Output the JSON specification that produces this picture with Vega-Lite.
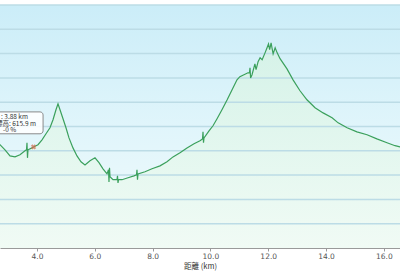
{
  "$schema": "https://vega.github.io/schema/vega-lite/v6.json",
  "autosize": {"type": "none"},
  "width": 400,
  "height": 243,
  "padding": {"top": 5, "left": 0, "right": 0, "bottom": 28},
  "background": "#ffffff",
  "config": {"view": {"stroke": null}},
  "datasets": {
    "profile": [
      {"km": 2.55, "elev": 633}, {"km": 2.72, "elev": 625}, {"km": 2.893, "elev": 604}, {"km": 3.066, "elev": 579},
      {"km": 3.239, "elev": 575}, {"km": 3.412, "elev": 584}, {"km": 3.585, "elev": 600}, {"km": 3.637, "elev": 604},
      {"km": 3.654, "elev": 633}, {"km": 3.671, "elev": 571}, {"km": 3.689, "elev": 604}, {"km": 3.827, "elev": 612},
      {"km": 3.88, "elev": 615.9}, {"km": 4.035, "elev": 625}, {"km": 4.174, "elev": 645}, {"km": 4.312, "elev": 670},
      {"km": 4.45, "elev": 695}, {"km": 4.554, "elev": 728}, {"km": 4.657, "elev": 769}, {"km": 4.727, "elev": 793},
      {"km": 4.796, "elev": 769}, {"km": 4.9, "elev": 732}, {"km": 5.003, "elev": 695}, {"km": 5.107, "elev": 653},
      {"km": 5.245, "elev": 612}, {"km": 5.384, "elev": 579}, {"km": 5.522, "elev": 555}, {"km": 5.661, "elev": 542},
      {"km": 5.834, "elev": 559}, {"km": 6.007, "elev": 571}, {"km": 6.145, "elev": 551}, {"km": 6.284, "elev": 526},
      {"km": 6.422, "elev": 505}, {"km": 6.474, "elev": 522}, {"km": 6.491, "elev": 472}, {"km": 6.509, "elev": 530},
      {"km": 6.526, "elev": 493}, {"km": 6.63, "elev": 481}, {"km": 6.768, "elev": 481}, {"km": 6.785, "elev": 497},
      {"km": 6.803, "elev": 468}, {"km": 6.82, "elev": 481}, {"km": 6.941, "elev": 481}, {"km": 7.149, "elev": 489},
      {"km": 7.356, "elev": 497}, {"km": 7.443, "elev": 501}, {"km": 7.46, "elev": 522}, {"km": 7.477, "elev": 481},
      {"km": 7.495, "elev": 505}, {"km": 7.737, "elev": 514}, {"km": 7.979, "elev": 526}, {"km": 8.256, "elev": 538},
      {"km": 8.498, "elev": 555}, {"km": 8.706, "elev": 575}, {"km": 8.948, "elev": 592}, {"km": 9.19, "elev": 612},
      {"km": 9.433, "elev": 629}, {"km": 9.64, "elev": 641}, {"km": 9.727, "elev": 649}, {"km": 9.744, "elev": 678},
      {"km": 9.761, "elev": 633}, {"km": 9.779, "elev": 653}, {"km": 9.952, "elev": 682}, {"km": 10.09, "elev": 703},
      {"km": 10.23, "elev": 732}, {"km": 10.4, "elev": 769}, {"km": 10.58, "elev": 810}, {"km": 10.75, "elev": 851},
      {"km": 10.92, "elev": 892}, {"km": 11.02, "elev": 905}, {"km": 11.16, "elev": 913}, {"km": 11.3, "elev": 921},
      {"km": 11.35, "elev": 921}, {"km": 11.37, "elev": 942}, {"km": 11.39, "elev": 900}, {"km": 11.44, "elev": 913},
      {"km": 11.54, "elev": 958}, {"km": 11.58, "elev": 934}, {"km": 11.65, "elev": 967}, {"km": 11.72, "elev": 983},
      {"km": 11.79, "elev": 975}, {"km": 11.89, "elev": 1003}, {"km": 11.96, "elev": 1024}, {"km": 12.01, "elev": 1040},
      {"km": 12.05, "elev": 1016}, {"km": 12.1, "elev": 1044}, {"km": 12.13, "elev": 1024}, {"km": 12.17, "elev": 999},
      {"km": 12.24, "elev": 1024}, {"km": 12.31, "elev": 1003}, {"km": 12.41, "elev": 979}, {"km": 12.65, "elev": 937},
      {"km": 12.86, "elev": 892}, {"km": 13.1, "elev": 847}, {"km": 13.34, "elev": 810}, {"km": 13.62, "elev": 777},
      {"km": 13.9, "elev": 756}, {"km": 14.21, "elev": 736}, {"km": 14.42, "elev": 715}, {"km": 14.73, "elev": 695},
      {"km": 15.07, "elev": 678}, {"km": 15.42, "elev": 666}, {"km": 15.76, "elev": 649}, {"km": 16.11, "elev": 633},
      {"km": 16.39, "elev": 621}, {"km": 16.56, "elev": 616}, {"km": 16.73, "elev": 612}
    ]
  },
  "layer": [
    {
      "data": {"values": [{"k0": 2.5, "k1": 16.8, "e0": 200, "e1": 1200}]},
      "mark": {
        "type": "rect",
        "color": {"gradient": "linear", "x1": 0, "y1": 0, "x2": 0, "y2": 1,
          "stops": [{"offset": 0, "color": "#cbedf8"}, {"offset": 0.5, "color": "#e0f5fb"}, {"offset": 1, "color": "#f2fbfb"}]}
      },
      "encoding": {
        "x": {"field": "k0", "type": "quantitative", "scale": {"domain": [2.72, 16.56], "nice": false, "zero": false},
          "axis": {"values": [4, 6, 8, 10, 12, 14, 16], "format": ".1f", "title": "距離 (km)", "grid": false,
            "domainColor": "#9a9a9a", "tickColor": "#9a9a9a", "tickSize": 3, "labelPadding": 1,
            "labelFont": "DejaVu Sans", "labelFontSize": 7.5, "labelColor": "#555555",
            "titleFont": "Noto Sans CJK JP", "titleFontSize": 7.5, "titleFontWeight": "normal", "titleColor": "#333333", "titlePadding": 3}},
        "x2": {"field": "k1"},
        "y": {"field": "e0", "type": "quantitative", "scale": {"domain": [200, 1200], "nice": false, "zero": false},
          "axis": null},
        "y2": {"field": "e1"}
      }
    },
    {
      "data": {"name": "profile"},
      "mark": {
        "type": "area", "interpolate": "linear", "opacity": 0.8,
        "color": {"gradient": "linear", "x1": 0, "y1": 0, "x2": 0, "y2": 1,
          "stops": [{"offset": 0, "color": "#d6f3e4"}, {"offset": 1, "color": "#f0fbf3"}]}
      },
      "encoding": {
        "x": {"field": "km", "type": "quantitative"},
        "y": {"field": "elev", "type": "quantitative"},
        "y2": {"datum": 200}
      }
    },
    {
      "data": {"values": [{"g": 300}, {"g": 400}, {"g": 500}, {"g": 600}, {"g": 700}, {"g": 800}, {"g": 900}, {"g": 1000}, {"g": 1100}, {"g": 1200}]},
      "mark": {"type": "rule", "color": "#bcdce6", "strokeWidth": 1.5},
      "encoding": {
        "y": {"field": "g", "type": "quantitative"}
      }
    },
    {
      "data": {"name": "profile"},
      "mark": {"type": "line", "color": "#3ba05c", "strokeWidth": 1.2},
      "encoding": {
        "x": {"field": "km", "type": "quantitative"},
        "y": {"field": "elev", "type": "quantitative"}
      }
    },
    {
      "data": {"values": [{"km": 3.88, "elev": 615.9}]},
      "mark": {"type": "point", "shape": "cross", "angle": 45, "filled": true, "size": 28, "color": "#d26a4e"},
      "encoding": {
        "x": {"field": "km", "type": "quantitative"},
        "y": {"field": "elev", "type": "quantitative"}
      }
    },
    {
      "data": {"values": [{"k0": 2.5, "k1": 4.21, "e0": 670, "e1": 760}]},
      "mark": {"type": "rect", "fill": "#ffffff", "fillOpacity": 0.85, "stroke": "#8a8a8a", "strokeWidth": 1, "cornerRadius": 3},
      "encoding": {
        "x": {"field": "k0", "type": "quantitative"},
        "x2": {"field": "k1"},
        "y": {"field": "e0", "type": "quantitative"},
        "y2": {"field": "e1"}
      }
    },
    {
      "data": {"values": [
        {"km": 2.755, "elev": 739, "label": ": 3.88 km"},
        {"km": 2.581, "elev": 711, "label": "標高: 615.9 m"},
        {"km": 2.824, "elev": 684, "label": "-0 %"}
      ]},
      "mark": {"type": "text", "align": "left", "baseline": "middle", "fontSize": 6.5, "font": "Noto Sans CJK JP", "color": "#333333"},
      "encoding": {
        "x": {"field": "km", "type": "quantitative"},
        "y": {"field": "elev", "type": "quantitative"},
        "text": {"field": "label"}
      }
    }
  ]
}
